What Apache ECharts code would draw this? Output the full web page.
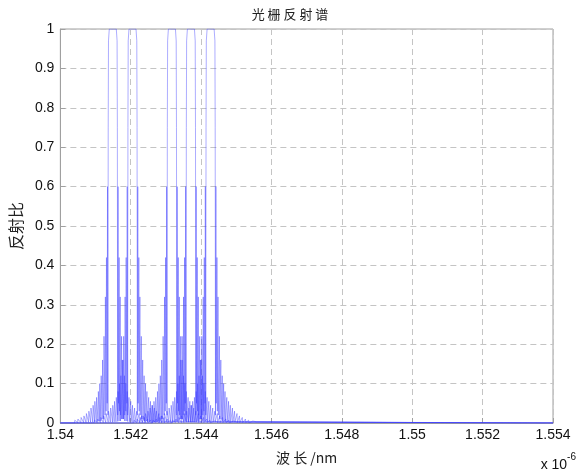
<!DOCTYPE html>
<html><head><meta charset="utf-8">
<script src="https://cdn.jsdelivr.net/npm/echarts@6/dist/echarts.min.js"></script>
<style>html,body{margin:0;padding:0;background:#fff}#c{width:580px;height:474px}</style>
</head><body><div id="c"></div>
<script>
// Grating centre wavelengths (x 1e-6 m)
const centers = [1.54149, 1.54205, 1.54317, 1.54371, 1.54427];
// Main-lobe shape: offset from centre and reflectance
const mainOffsets = [-0.000138, -0.00013, -0.000122, -0.0001, 0, 0.0001, 0.000122, 0.00013, 0.000138];
const mainValues  = [0.02, 0.75, 0.97, 1, 1, 1, 0.97, 0.75, 0.02];
// Side lobes (distance from centre, reflectance), mirrored on both sides
const sideOffsets = [0.00015, 0.00016, 0.00018, 0.00019, 0.00021, 0.00022, 0.00025, 0.00026, 0.00029, 0.0003,
  0.00033, 0.00034, 0.00037, 0.00038, 0.00041, 0.00042, 0.00046, 0.00047, 0.00051, 0.00052,
  0.00056, 0.00057, 0.00062, 0.00063, 0.00068, 0.00069, 0.00075, 0.00076, 0.00082, 0.00083,
  0.0009, 0.00091, 0.00099, 0.001, 0.00108, 0.00109, 0.0012, 0.00121, 0.0013, 0.00131];
const sideValues  = [0.6, 0.05, 0.42, 0.03, 0.32, 0.02, 0.22, 0.01, 0.16, 0.01,
  0.12, 0.005, 0.1, 0.005, 0.08, 0.004, 0.065, 0.003, 0.055, 0.003,
  0.045, 0.002, 0.038, 0.002, 0.03, 0.002, 0.024, 0.001, 0.018, 0.001,
  0.014, 0.001, 0.01, 0.001, 0.007, 0.0, 0.005, 0.0, 0.003, 0.0];
const xMin = 1.54, xMax = 1.554;

function buildSeries(c) {
  const pts = [[xMin, 0]];
  for (let i = sideOffsets.length - 1; i >= 0; i--) pts.push([c - sideOffsets[i], sideValues[i]]);
  for (let i = 0; i < mainOffsets.length; i++) pts.push([c + mainOffsets[i], mainValues[i]]);
  for (let i = 0; i < sideOffsets.length; i++) pts.push([c + sideOffsets[i], sideValues[i]]);
  pts.push([xMax, 0]);
  return pts;
}

const chart = echarts.init(document.getElementById('c'), null, {renderer: 'canvas'});
const numFont = 'Liberation Sans, Arial, sans-serif';
const cjkFont = 'Noto Sans CJK SC, sans-serif';
const gridLine = {show: true, lineStyle: {color: '#c4c4c4', type: [6, 4], width: 1}};
chart.setOption({
  animation: false,
  title: {text: '光 栅 反 射 谱', left: 'center', top: 3,
    textStyle: {fontFamily: cjkFont, fontSize: 13, fontWeight: 'normal', color: '#222'}},
  grid: {left: 56, right: 27, top: 29, bottom: 51, show: true, borderColor: '#a0a0a0', borderWidth: 1},
  xAxis: {type: 'value', min: xMin, max: xMax, interval: 0.002,
    name: '波 长 /nm', nameLocation: 'middle', nameGap: 28,
    nameTextStyle: {fontFamily: cjkFont, fontSize: 14, color: '#222'},
    axisLine: {lineStyle: {color: '#a0a0a0'}},
    axisTick: {inside: true, length: 5, lineStyle: {color: '#a0a0a0'}},
    axisLabel: {fontFamily: numFont, fontSize: 14, color: '#111', margin: 5,
      formatter: v => String(+v.toFixed(3))},
    splitLine: gridLine},
  yAxis: {type: 'value', min: 0, max: 1, interval: 0.1,
    name: '反射比', nameLocation: 'middle', nameGap: 30, nameRotate: 90,
    nameTextStyle: {fontFamily: cjkFont, fontSize: 16, color: '#222'},
    axisLine: {show: true, lineStyle: {color: '#a0a0a0'}},
    axisTick: {show: true, inside: true, length: 5, lineStyle: {color: '#a0a0a0'}},
    axisLabel: {fontFamily: numFont, fontSize: 14, color: '#111', margin: 6,
      formatter: v => String(+v.toFixed(1))},
    splitLine: gridLine},
  graphic: [{type: 'text', right: 4, top: 452,
    style: {text: '{a|x 10}{b|-6}', rich: {
      a: {fontFamily: numFont, fontSize: 14, fill: '#111', verticalAlign: 'bottom', lineHeight: 20},
      b: {fontFamily: numFont, fontSize: 10, fill: '#111', verticalAlign: 'top', lineHeight: 20}}}}],
  series: centers.map(c => ({type: 'line', data: buildSeries(c), showSymbol: false,
    lineStyle: {color: 'rgba(60,60,255,0.42)', width: 1}}))
});
</script></body></html>
